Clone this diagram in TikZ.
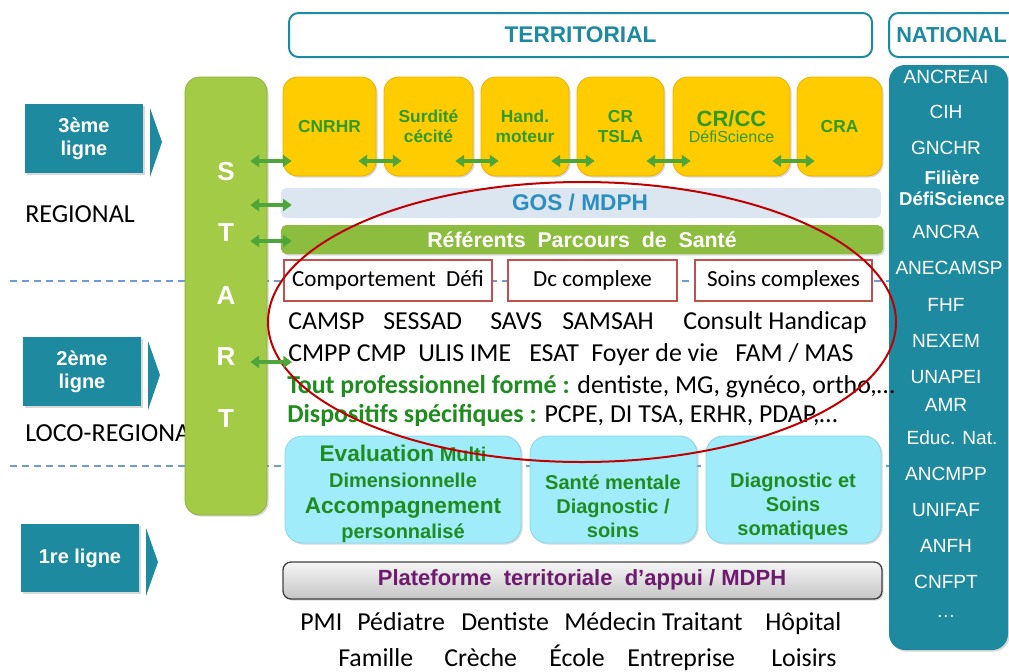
\documentclass[tikz,border=0pt]{standalone}
\usepackage{fontspec}
\setmainfont{Liberation Sans}
\newfontfamily\calib{Carlito}
\usetikzlibrary{arrows.meta,shadows,calc}
\definecolor{tealc}{HTML}{1E8A9F}
\definecolor{startg}{HTML}{A3CB46}
\definecolor{arrg}{HTML}{4EA63A}
\definecolor{yel}{HTML}{FFCC00}
\definecolor{yeld}{HTML}{E9B000}
\definecolor{ytxt}{HTML}{2E9A2A}
\definecolor{gosbg}{HTML}{DCE6F1}
\definecolor{gostxt}{HTML}{2A8FC0}
\definecolor{refg}{HTML}{8DBD3F}
\definecolor{redb}{HTML}{C0504D}
\definecolor{ellr}{HTML}{C00000}
\definecolor{dashb}{HTML}{6F9BD1}
\definecolor{cyanb}{HTML}{A0ECFB}
\definecolor{cyand}{HTML}{86D6EA}
\definecolor{gtxt}{HTML}{1E8C1E}
\definecolor{purp}{HTML}{6E1A6E}
\newcommand\fsz[1]{\fontsize{#1}{1.2\dimexpr #1pt\relax}\selectfont}
\newcommand\fszb[2]{\fontsize{#1}{#2}\selectfont}
\newcommand\bx[7]{\node[#6, minimum width={(#4-#2)*0.75pt}, minimum height={(#5-#3)*0.75pt}, inner sep=0pt, align=center] (#1) at ({(#2+#4)/2},{(#3+#5)/2}) {#7};}
\tikzset{
  shd/.style={drop shadow={opacity=0.3,shadow xshift=1.2pt,shadow yshift=-1.2pt}},
  lignebox/.style={fill=tealc, shd, text=white, font=\bfseries\fszb{15}{17}},
  hdrbox/.style={draw=tealc, line width=1.5pt, rounded corners=7pt, fill=white, text=tealc, font=\bfseries\fsz{17}},
  yelbox/.style={fill=yel, draw=yeld, line width=0.6pt, rounded corners=11pt, shd, text=ytxt, font=\bfseries\fszb{13}{15}},
  redbox/.style={draw=redb, line width=1.3pt, fill=white, font=\calib\fsz{17.3}},
  cyanbox/.style={fill=cyanb, draw=cyand, line width=0.6pt, rounded corners=13pt, shd},
  cyantxt/.style={text=gtxt, font=\bfseries\fszb{15}{18}, align=center},
  garrow/.style={draw=arrg, line width=2.4pt, {Triangle[width=9pt,length=6.5pt]}-{Triangle[width=9pt,length=6.5pt]}},
  dashline/.style={draw=dashb, line width=1.3pt, dash pattern=on 5pt off 4pt},
  rowtxt/.style={anchor=base west, inner sep=0pt, font=\calib\fsz{19.4}},
  nattxt/.style={text=white, font=\fsz{14.3}, inner sep=0pt},
  lefttxt/.style={anchor=base west, inner sep=0pt, font=\calib\fsz{19.5}},
  starttxt/.style={text=white, font=\bfseries\fsz{19.5}, inner sep=0pt}
}
\begin{document}
\begin{tikzpicture}[x=0.75pt,y=-0.75pt]
\useasboundingbox (0,0) rectangle (1009,671);
% dashed level lines
\draw[dashline] (10,281) -- (890,281);
\draw[dashline] (10,466) -- (890,466);
% headers
\bx{terr}{289}{13}{872}{57}{hdrbox}{TERRITORIAL}
\bx{nat}{889}{13}{1030}{57}{hdrbox}{}
\node[text=tealc, font=\bfseries\fsz{16.3}, anchor=west, inner sep=0pt] (natt) at (896,35) {NATIONAL};
% national column
\bx{natcol}{889}{65}{1008}{650}{fill=tealc, rounded corners=12pt, shd}{}
\node[nattxt] (n1) at (946,77) {ANCREAI};
\node[nattxt] (n2) at (946,112) {CIH};
\node[nattxt] (n3) at (946,148) {GNCHR};
\node[nattxt, font=\bfseries\fszb{14}{16}, align=center] (n4) at (952,188) {Filière\\DéfiScience};
\node[nattxt] (n5) at (946,232) {ANCRA};
\node[nattxt] (n6) at (949,268) {ANECAMSP};
\node[nattxt] (n7) at (946,305) {FHF};
\node[nattxt] (n8) at (946,341) {NEXEM};
\node[nattxt] (n9) at (946,377) {UNAPEI};
\node[nattxt] (n10) at (946,405) {AMR};
\node[nattxt] (n11) at (952,438) {Educ. Nat.};
\node[nattxt] (n12) at (946,474) {ANCMPP};
\node[nattxt] (n13) at (946,510) {UNIFAF};
\node[nattxt] (n14) at (946,546) {ANFH};
\node[nattxt] (n15) at (946,582) {CNFPT};
\node[nattxt] (n16) at (946,616) {\dots};
% ligne arrows
\bx{l3}{25}{104}{143}{173}{lignebox}{3ème\\ligne}
\fill[tealc] (150,108) -- (162,142) -- (150,177) -- cycle;
\bx{l2}{23}{337}{141}{406}{lignebox}{2ème\\ligne}
\fill[tealc] (148,341) -- (160,375) -- (148,410) -- cycle;
\bx{l1}{21}{524}{139}{592}{lignebox}{1re ligne}
\fill[tealc] (146,528) -- (158,562) -- (146,596) -- cycle;
\node[lefttxt] (reg) at (25,222) {REGIONAL};
\node[lefttxt] (loco) at (25,441) {LOCO-REGIONAL};
% START bar
\bx{start}{185}{77}{267}{515}{fill=startg, draw=startg!85!black, line width=0.5pt, rounded corners=11pt, shd}{}
\node[starttxt] (sS) at (226,172) {S};
\node[starttxt] (sT) at (226,233) {T};
\node[starttxt] (sA) at (226,296) {A};
\node[starttxt] (sR) at (226,357) {R};
\node[starttxt] (sT2) at (226,419) {T};
% yellow boxes
\bx{cnrhr}{283}{77}{376}{176}{yelbox}{CNRHR}
\bx{surd}{384}{77}{473}{176}{yelbox}{Surdité\\cécité}
\bx{hand}{481}{77}{569}{176}{yelbox}{Hand.\\moteur}
\bx{crtsla}{577}{77}{664}{176}{yelbox}{CR\\TSLA}
\bx{crcc}{673}{77}{790}{176}{yelbox}{{\fsz{16.5}CR/CC}\\[-3pt]{\mdseries\fsz{12}DéfiScience}}
\bx{cra}{797}{77}{882}{176}{yelbox}{CRA}
% bars
\bx{gos}{281}{188}{881}{218}{fill=gosbg, rounded corners=4pt}{}
\node[text=gostxt, font=\bfseries\fsz{17}] (gost) at (580,203) {GOS / MDPH};
\bx{ref}{281}{225}{883}{254}{fill=refg, rounded corners=4pt, shd}{}
\node[text=white, font=\bfseries\fsz{16}] (reft) at (582,240) {Référents\ \ Parcours\ \ de\ \ Santé};
% red boxes
\bx{comp}{284}{260}{492}{301}{redbox}{Comportement\ \ Défi}
\bx{dcc}{508}{260}{677}{301}{redbox}{Dc complexe}
\bx{soins}{695}{260}{872}{301}{redbox}{Soins complexes}
% rows
\node[rowtxt] (r1a) at (288,329) {CAMSP};
\node[rowtxt] (r1b) at (383,329) {SESSAD};
\node[rowtxt] (r1c) at (490,329) {SAVS};
\node[rowtxt] (r1d) at (562,329) {SAMSAH};
\node[rowtxt] (r1e) at (683,329) {Consult Handicap};
\node[rowtxt] (r2a) at (288,361) {CMPP CMP};
\node[rowtxt] (r2b) at (418,361) {ULIS IME};
\node[rowtxt] (r2c) at (529,361) {ESAT};
\node[rowtxt] (r2d) at (591,361) {Foyer de vie};
\node[rowtxt] (r2e) at (735,361) {FAM / MAS};
\node[rowtxt] (r3) at (287,393) {{\bfseries\color{gtxt}Tout professionnel formé :} dentiste, MG, gynéco, ortho,…};
\node[rowtxt] (r4) at (287,422) {{\bfseries\color{gtxt}Dispositifs spécifiques :} PCPE, DI TSA, ERHR, PDAP,…};
% cyan boxes
\bx{eval}{285}{436}{521}{543}{cyanbox}{}
\bx{sante}{530}{436}{697}{543}{cyanbox}{}
\bx{diag}{706}{436}{881}{543}{cyanbox}{}
\node[cyantxt, font=\bfseries\fszb{15}{19.3}] (evalt) at (403,494) {{\fsz{17}Evaluation} Multi\\Dimensionnelle\\{\fsz{17}Accompagnement}\\personnalisé};
\node[cyantxt] (santet) at (613,506) {Santé mentale\\Diagnostic /\\soins};
\node[cyantxt] (diagt) at (793,506) {Diagnostic et\\Soins\\somatiques};
% plateforme
\bx{plat}{283}{562}{882}{599}{top color=gray!8, bottom color=gray!45, draw=black!75, line width=1pt, rounded corners=6pt, shd}{}
\node[text=purp, font=\bfseries\fsz{16.5}] (platt) at (582,580) {Plateforme\ \ territoriale\ \ d’appui / MDPH};
% bottom rows
\node[rowtxt] (b1a) at (300,630) {PMI};
\node[rowtxt] (b1b) at (357,630) {Pédiatre};
\node[rowtxt] (b1c) at (461,630) {Dentiste};
\node[rowtxt] (b1d) at (564,630) {Médecin Traitant};
\node[rowtxt] (b1e) at (765,630) {Hôpital};
\node[rowtxt] (b2a) at (338,666) {Famille};
\node[rowtxt] (b2b) at (444,666) {Crèche};
\node[rowtxt] (b2c) at (549,666) {École};
\node[rowtxt] (b2d) at (627,666) {Entreprise};
\node[rowtxt] (b2e) at (771,666) {Loisirs};
% ellipse
\draw[draw=ellr, line width=1.5pt] (582,322) ellipse [x radius=314, y radius=140];
% green arrows
\draw[garrow] ($(start.east|-0,161)+(-17,0)$) -- ($(cnrhr.west|-0,161)+(9,0)$);
\draw[garrow] ($(start.east|-0,205)+(-17,0)$) -- ($(gos.west|-0,205)+(11,0)$);
\draw[garrow] ($(start.east|-0,241)+(-17,0)$) -- ($(ref.west|-0,241)+(11,0)$);
\draw[garrow] ($(start.east|-0,362)+(-17,0)$) -- ($(r2a.west|-0,362)+(4,0)$);
\draw[garrow] ($(cnrhr.east|-0,161)+(-18,0)$) -- ($(surd.west|-0,161)+(18,0)$);
\draw[garrow] ($(surd.east|-0,161)+(-18,0)$) -- ($(hand.west|-0,161)+(18,0)$);
\draw[garrow] ($(hand.east|-0,161)+(-18,0)$) -- ($(crtsla.west|-0,161)+(18,0)$);
\draw[garrow] ($(crtsla.east|-0,161)+(-18,0)$) -- ($(crcc.west|-0,161)+(18,0)$);
\draw[garrow] ($(crcc.east|-0,161)+(-18,0)$) -- ($(cra.west|-0,161)+(18,0)$);
\end{tikzpicture}
\end{document}
